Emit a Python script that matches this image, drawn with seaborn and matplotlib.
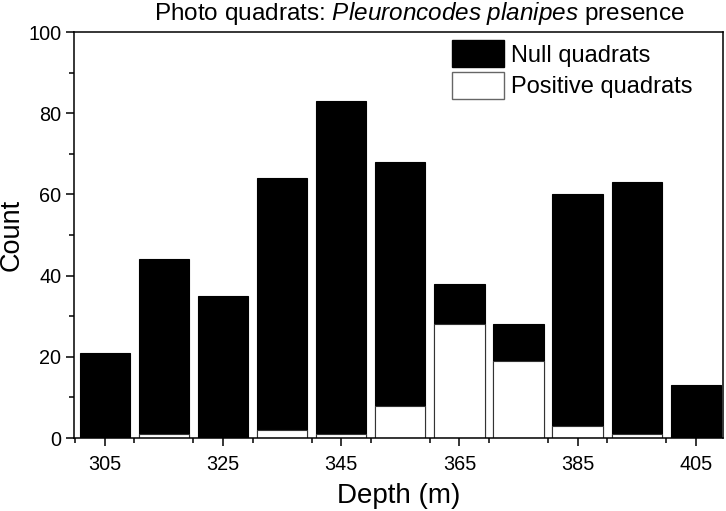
import matplotlib
matplotlib.use("Agg")
import matplotlib.pyplot as plt
from matplotlib.patches import Patch
from matplotlib.ticker import MultipleLocator
import seaborn as sns
import pandas as pd

depth = [305, 315, 325, 335, 345, 355, 365, 375, 385, 395, 405]
total = [21, 44, 35, 64, 83, 68, 38, 28, 60, 63, 13]
positive = [0, 1, 0, 2, 1, 8, 28, 19, 3, 1, 0]
x_ticks = [305, 325, 345, 365, 385, 405]
y_ticks = [0, 20, 40, 60, 80, 100]

plt.rcParams["font.family"] = ["Liberation Sans", "DejaVu Sans"]
plt.rcParams["mathtext.fontset"] = "custom"
plt.rcParams["mathtext.rm"] = "Liberation Sans"
plt.rcParams["mathtext.it"] = "Liberation Sans:italic"

df = pd.DataFrame({"depth": depth, "total": total, "positive": positive})

fig = plt.figure(figsize=(7.26, 5.11), dpi=100)
ax = fig.add_axes([74 / 726, 73 / 511, (723 - 74) / 726, (438 - 32) / 511])

sns.barplot(data=df, x="depth", y="total", native_scale=True, width=0.85,
            color="black", saturation=1, edgecolor="black", linewidth=0.8, ax=ax)
sns.barplot(data=df, x="depth", y="positive", native_scale=True, width=0.85,
            color="white", saturation=1, edgecolor="#333333", linewidth=0.8, ax=ax)

ax.set_xlim(299.8, 409.6)
ax.set_ylim(0, 100)
ax.set_xticks(x_ticks)
ax.xaxis.set_minor_locator(MultipleLocator(10))
ax.set_yticks(y_ticks)
ax.yaxis.set_minor_locator(MultipleLocator(10))
ax.tick_params(axis="both", which="major", direction="out", length=6, width=1.1,
               labelsize=14.3)
ax.tick_params(axis="x", which="major", pad=6)
ax.tick_params(axis="y", which="major", pad=3)
ax.tick_params(axis="both", which="minor", direction="out", length=3.5, width=1.1)
for s in ax.spines.values():
    s.set_linewidth(1.1)

ax.set_xlabel("Depth (m)", fontsize=20, labelpad=7)
ax.set_ylabel("Count", fontsize=19.5, labelpad=2.5)
ax.set_title(r"Photo quadrats: $\it{Pleuroncodes\ planipes}$ presence",
             fontsize=17.5, pad=8.5, x=0.532)

handles = [Patch(facecolor="black", edgecolor="black", label="Null quadrats"),
           Patch(facecolor="white", edgecolor="#666666", label="Positive quadrats")]
ax.legend(handles=handles, loc="upper right", bbox_to_anchor=(0.966, 1.0),
          frameon=False, fontsize=17, handlelength=2.2, handleheight=1.38,
          handletextpad=0.3, labelspacing=0.2, borderaxespad=0, borderpad=0.35)

fig.savefig("out.png", dpi=100)
